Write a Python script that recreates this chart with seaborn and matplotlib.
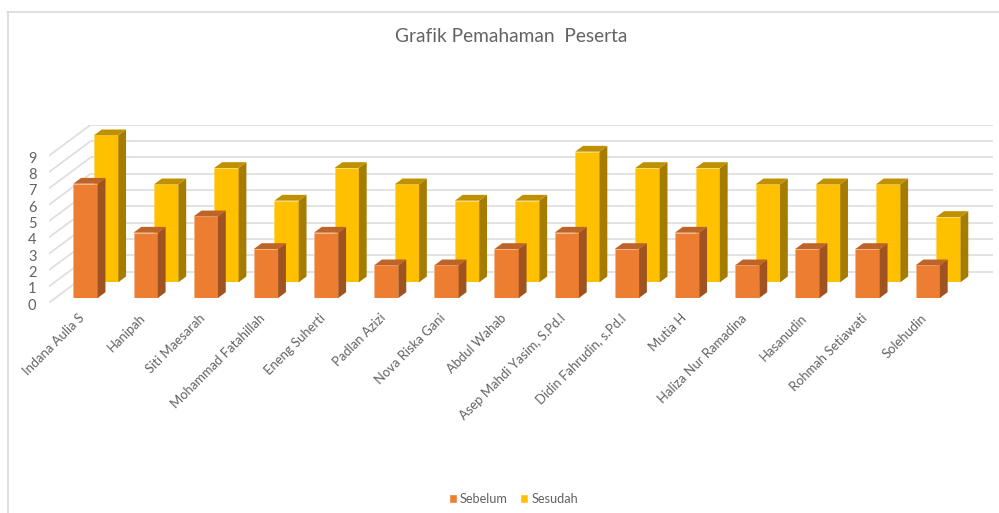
import matplotlib
matplotlib.use('Agg')
import matplotlib.pyplot as plt
from matplotlib.lines import Line2D
from matplotlib.patches import Patch, Polygon
from matplotlib.transforms import ScaledTranslation
import pandas as pd
import seaborn as sns

names = ['Indana Aulia S', 'Hanipah', 'Siti Maesarah', 'Mohammad Fatahillah', 'Eneng Suherti',
         'Padlan Azizi', 'Nova Riska Gani', 'Abdul Wahab', 'Asep Mahdi Yasim, S.Pd.I',
         'Didin Fahrudin, s.Pd.I', 'Mutia H', 'Haliza Nur Ramadina', 'Hasanudin',
         'Rohmah Setiawati', 'Solehudin']
sebelum = [7, 4, 5, 3, 4, 2, 2, 3, 4, 3, 4, 2, 3, 3, 2]
sesudah = [9, 6, 7, 5, 7, 6, 5, 5, 8, 7, 7, 6, 6, 6, 4]
y_ticks = [0, 1, 2, 3, 4, 5, 6, 7, 8, 9]

W, H = 999, 513
UNIT = 16.33     # px per value
STEP = 60.16     # px per category
GREY = '#636363'

sns.set_theme(style='white')
plt.rcParams['font.family'] = ['Lato', 'DejaVu Sans']

df = pd.DataFrame({'nama': names, 'Sebelum': sebelum, 'Sesudah': sesudah})
fig = plt.figure(figsize=(W / 100, H / 100), dpi=100, facecolor='white')


def px_axes(left, right, top, bottom, zorder):
    ax = fig.add_axes([left / W, 1 - bottom / H, (right - left) / W, (bottom - top) / H], zorder=zorder)
    ax.patch.set_visible(False)
    for s in ax.spines.values():
        s.set_visible(False)
    return ax


def extrude(ax, colors_side, colors_top):
    # fake 3d: side and top faces taken from the bars seaborn drew
    dx, dy = 7.8 / STEP, 5.8 / UNIT
    for bar in ax.patches[:]:
        x0, x1 = bar.get_x(), bar.get_x() + bar.get_width()
        h = bar.get_height()
        ax.add_patch(Polygon([(x1, 0), (x1 + dx, dy), (x1 + dx, h + dy), (x1, h)],
                             facecolor=colors_side, edgecolor='none', clip_on=False))
        ax.add_patch(Polygon([(x0, h), (x0 + dx, h + dy), (x1 + dx, h + dy), (x1, h)],
                             facecolor=colors_top, edgecolor='none', clip_on=False))


# walls: front edge at px 302.7, back wall shifted by (41.7, 31) px
wall = px_axes(49, 993, 124.7, 302.7, 1)
back = 31 / UNIT
for v in y_ticks:
    wall.add_line(Line2D([0, 41.7], [v, v + back], color='#DEDEDE', lw=1.25))
    wall.add_line(Line2D([41.7, 944], [v + back, v + back], color='#DEDEDE', lw=1.25))
wall.set_xlim(0, 944)
wall.set_ylim(0, 178 / UNIT)
wall.set_xticks([])
wall.set_yticks(y_ticks)
wall.set_yticklabels(y_ticks, fontsize=10.5, color=GREY)
wall.tick_params(axis='y', length=0, pad=9)
down = ScaledTranslation(0, -1.5 / 100, fig.dpi_scale_trans)
for label in wall.get_yticklabels():
    label.set_transform(label.get_transform() + down)


def bar_axes(dx_px, dy_px, zorder):
    ax = px_axes(49 + dx_px, 993 + dx_px, 124 - dy_px, 298 - dy_px, zorder)
    return ax


# rear row sits 20.6 px right and 15.7 px up from the front row
ax_back = bar_axes(20.6, 15.7, 2)
sns.barplot(data=df, x='nama', y='Sesudah', color='#FFC000', saturation=1, width=24.3 / STEP,
            ax=ax_back, edgecolor='#FFD24D', linewidth=0.4)
extrude(ax_back, '#A67C00', '#BF9000')

ax_front = bar_axes(0, 0, 3)
sns.barplot(data=df, x='nama', y='Sebelum', color='#ED7D31', saturation=1, width=24.3 / STEP,
            ax=ax_front, edgecolor='#F4B183', linewidth=0.4)
extrude(ax_front, '#9E5320', '#BE6428')

for ax in (ax_back, ax_front):
    ax.set_xlim((49 - 85.5) / STEP, (993 - 85.5) / STEP)
    ax.set_ylim(0, 174 / UNIT)
    ax.set_xlabel('')
    ax.set_ylabel('')
    ax.set_yticks([])

ax_back.set_xticks([])
ax_front.set_xticks(range(len(names)))
ax_front.set_xticklabels(names, rotation=45, ha='right', va='top', rotation_mode='anchor',
                         fontsize=9.4, color=GREY)
ax_front.tick_params(axis='x', length=0, pad=10)
shift = ScaledTranslation(-7 / 100, 0, fig.dpi_scale_trans)
for label in ax_front.get_xticklabels():
    label.set_transform(label.get_transform() + shift)

# chart frame
fig.add_artist(Line2D([7.5 / W, 7.5 / W], [0, 1 - 11.5 / H], color='#D9D9D9', lw=1.2))
fig.add_artist(Line2D([7 / W, 1], [1 - 11.5 / H, 1 - 11.5 / H], color='#D9D9D9', lw=1.2))

fig.text(511 / W, 1 - 36 / H, 'Grafik Pemahaman  Peserta', ha='center', va='center',
         fontsize=13.8, color=GREY)

handles = [Patch(facecolor='#ED7D31', label='Sebelum'), Patch(facecolor='#FFC000', label='Sesudah')]
fig.legend(handles=handles, loc='center', bbox_to_anchor=(513.5 / W, 1 - 499 / H), ncol=2, frameon=False,
           fontsize=9.2, labelcolor=GREY, handlelength=0.62, handleheight=0.62,
           handletextpad=0.25, columnspacing=1.0)

fig.savefig('out.png', dpi=100, facecolor='white')
